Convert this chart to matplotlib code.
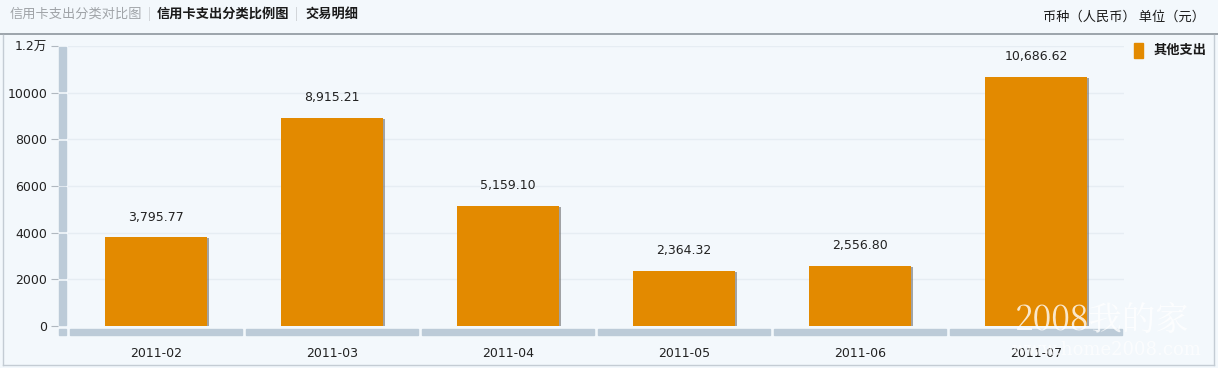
import matplotlib
matplotlib.use('Agg')
import matplotlib.pyplot as plt
import matplotlib.transforms as mtransforms
from matplotlib.patches import Rectangle

plt.rcParams['font.family'] = ['Noto Sans CJK SC', 'DejaVu Sans']

# data
months = ['2011-02', '2011-03', '2011-04', '2011-05', '2011-06', '2011-07']
spend = [3795.77, 8915.21, 5159.10, 2364.32, 2556.80, 10686.62]
yticks = [0, 2000, 4000, 6000, 8000, 10000, 12000]
ytick_labels = ['0', '2000', '4000', '6000', '8000', '10000', '1.2万']

W, H = 1218, 368
bg = '#f3f8fc'
orange = '#e38a00'
axis_gray = '#bccbd8'
num_font = ['DejaVu Sans', 'Noto Sans CJK SC']

fig = plt.figure(figsize=(W / 100, H / 100), dpi=100, facecolor=bg)

# header
fig.text(10 / W, 1 - 14 / H, '信用卡支出分类对比图', color='#a0a4a8', fontsize=9.5, va='center')
fig.text(148 / W, 1 - 14 / H, '|', color='#c8ccd0', fontsize=9, va='center')
fig.text(157 / W, 1 - 14 / H, '信用卡支出分类比例图', color='#1a1a1a', fontsize=9.5,
         fontweight='bold', va='center')
fig.text(295 / W, 1 - 14 / H, '|', color='#c8ccd0', fontsize=9, va='center')
fig.text(305 / W, 1 - 14 / H, '交易明细', color='#1a1a1a', fontsize=9.5,
         fontweight='bold', va='center')
fig.text(1205 / W, 1 - 17 / H, '币种（人民币） 单位（元）', color='#1a1a1a', fontsize=9.5,
         ha='right', va='center')

# frame lines
fig.add_artist(plt.Line2D([0, 1], [1 - 34 / H] * 2, color='#8e969e', lw=1.2))
fig.add_artist(plt.Line2D([3 / W] * 2, [3 / H, 1 - 35 / H], color='#c4ccd4', lw=1))
fig.add_artist(plt.Line2D([1214 / W] * 2, [3 / H, 1 - 35 / H], color='#c4ccd4', lw=1))
fig.add_artist(plt.Line2D([3 / W, 1214 / W], [3 / H] * 2, color='#c4ccd4', lw=1))

ax = fig.add_axes([68 / W, 1 - 326 / H, (1124 - 68) / W, (326 - 46) / H])
ax.set_facecolor('none')
for s in ax.spines.values():
    s.set_visible(False)

x = list(range(len(months)))
ax.set_xlim(-0.5, len(months) - 0.5)
ax.set_ylim(0, 12000)

# grid
for v in yticks[1:]:
    ax.axhline(v, color='#e6edf3', lw=1, zorder=0)

# bars with shadow
shadow = mtransforms.offset_copy(ax.transData, fig=fig, x=2, y=-1, units='dots')
ax.bar(x, spend, width=0.575, color='#6b6b6b', alpha=0.6, transform=shadow, zorder=2)
ax.bar(x, spend, width=0.575, color=orange, zorder=3)
for xi, v in zip(x, spend):
    ax.annotate(f'{v:,.2f}', (xi, v), xytext=(0, 10), textcoords='offset points',
                ha='center', va='bottom', fontsize=9, color='#222222', family=num_font)

# y axis gray bar with gaps at ticks
ybar = mtransforms.blended_transform_factory(
    mtransforms.offset_copy(ax.transAxes, fig=fig, x=-9, y=0, units='dots'), ax.transData)
for lo, hi in zip(yticks[:-1], yticks[1:]):
    ax.add_patch(Rectangle((0, lo + 60), 7 / ((1124 - 68)), hi - lo - 120,
                           transform=ybar, color=axis_gray, clip_on=False, zorder=1))

# x axis gray bar segments
xbar = mtransforms.offset_copy(ax.transData, fig=fig, x=0, y=-9, units='dots')
for xi in x:
    ax.add_patch(Rectangle((xi - 0.5 + 0.01, 0), 0.98, 250, transform=xbar,
                           color=axis_gray, clip_on=False, zorder=1))
ax.add_patch(Rectangle((-0.5 - 0.05, 0), 0.04, 250, transform=xbar,
                       color=axis_gray, clip_on=False, zorder=1))

ax.set_yticks(yticks)
ax.set_yticklabels(ytick_labels, family=num_font)
ax.set_xticks(x)
ax.set_xticklabels(months, family=num_font)
ax.tick_params(axis='y', length=5, color='#b0b8c0', pad=10, labelsize=9, labelcolor='#222222')
ax.tick_params(axis='x', length=0, pad=15, labelsize=9, labelcolor='#222222')
for t in ax.get_yticklines():
    t.set_transform(t.get_transform() + mtransforms.ScaledTranslation(-10 / 100, 0, fig.dpi_scale_trans))

# legend
fig.add_artist(Rectangle((1134 / W, 1 - 58 / H), 9 / W, 15 / H, color=orange,
                         transform=fig.transFigure))
fig.text(1154 / W, 1 - 50 / H, '其他支出', fontsize=9.5, fontweight='bold',
         color='#1a1a1a', va='center')

# watermark
fig.text(1015 / W, 1 - 321 / H, '2008我的家', fontsize=24, color='white', alpha=0.8,
         family=['Noto Serif CJK SC', 'Noto Sans CJK SC', 'DejaVu Serif'], va='center')
fig.text(1012 / W, 1 - 350 / H, 'www.home2008.com', fontsize=13, color='white', alpha=0.7,
         family=['DejaVu Serif'], va='center')

fig.savefig('out.png', dpi=100, facecolor=bg)
